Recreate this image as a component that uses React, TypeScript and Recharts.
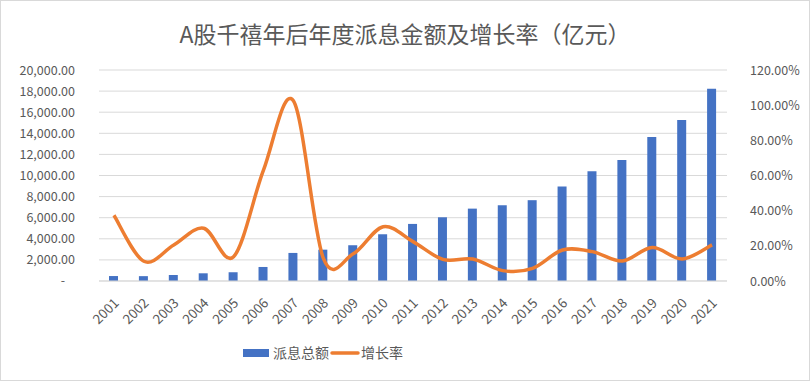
import { ComposedChart, Bar, Line, XAxis, YAxis, CartesianGrid } from 'recharts';

const years = ['2001', '2002', '2003', '2004', '2005', '2006', '2007', '2008', '2009', '2010', '2011',
  '2012', '2013', '2014', '2015', '2016', '2017', '2018', '2019', '2020', '2021'];
// 派息总额 (亿元)
const dividends = [470, 460, 570, 730, 830, 1330, 2660, 2970, 3390, 4430, 5410,
  6040, 6860, 7180, 7660, 8950, 10410, 11480, 13640, 15250, 18220];
// 增长率 (%)
const growth = [37.4, 11.2, 20.5, 30.0, 13.8, 63.0, 102.5, 13.0, 15.5, 30.9, 22.4,
  12.3, 12.5, 5.9, 7.2, 17.6, 16.7, 11.4, 19.0, 12.5, 20.5];
const leftTicks = [0, 2000, 4000, 6000, 8000, 10000, 12000, 14000, 16000, 18000, 20000];
const rightTicks = [0, 20, 40, 60, 80, 100, 120];

const data = years.map((y, i) => ({ year: y, amount: dividends[i], rate: growth[i] }));

const FONT = '"Noto Sans CJK SC", "Noto Sans", sans-serif';
const GREY = '#595959';

// Excel-like smoothed line (Catmull-Rom through every point)
const smoothCurve = (context: any) => {
  let pts: number[][] = [];
  return {
    areaStart() {},
    areaEnd() {},
    lineStart() { pts = []; },
    point(x: number, y: number) { pts.push([x, y]); },
    lineEnd() {
      if (!pts.length) return;
      context.moveTo(pts[0][0], pts[0][1]);
      for (let i = 0; i < pts.length - 1; i++) {
        const p0 = pts[i - 1] || pts[i];
        const p1 = pts[i];
        const p2 = pts[i + 1];
        const p3 = pts[i + 2] || p2;
        const t = 1 / 6;
        context.bezierCurveTo(
          p1[0] + (p2[0] - p0[0]) * t, p1[1] + (p2[1] - p0[1]) * t,
          p2[0] - (p3[0] - p1[0]) * t, p2[1] - (p3[1] - p1[1]) * t,
          p2[0], p2[1]);
      }
    },
  };
};

const LeftTick = ({ x, y, payload }: any) => {
  if (payload.value === 0) {
    return <text x={x - 28} y={y} dy={4} fill={GREY} fontSize={12.5} fontFamily={FONT} textAnchor="middle">-</text>;
  }
  const label = payload.value.toLocaleString('en-US', { minimumFractionDigits: 2, maximumFractionDigits: 2 });
  return <text x={x - 16} y={y} dy={4.5} fill={GREY} fontSize={12.5} fontFamily={FONT} textAnchor="end">{label}</text>;
};

const RightTick = ({ x, y, payload }: any) => (
  <text x={x + 15} y={y} dy={4.5} fill={GREY} fontSize={12.5} fontFamily={FONT} textAnchor="start">
    {`${payload.value.toFixed(2)}%`}
  </text>
);

const XTick = ({ x, y, payload }: any) => (
  <text x={x + 3} y={y + 12} fill={GREY} fontSize={13.5} fontFamily={FONT} textAnchor="end"
    transform={`rotate(-45, ${x + 3}, ${y + 12})`} dy={4}>{payload.value}</text>
);

export default function App() {
  return (
    <div style={{ position: 'absolute', left: 0, top: 0, width: 810, height: 381, background: '#fff',
      boxSizing: 'border-box', border: '1px solid #d9d9d9', fontFamily: FONT }}>
      <div style={{ position: 'absolute', top: 16, left: 0, width: 808, textAlign: 'center',
        fontSize: 23, color: GREY, lineHeight: '32px' }}>
        A股千禧年后年度派息金额及增长率（亿元）
      </div>
      <ComposedChart width={808} height={379} data={data}
        margin={{ top: 69, right: 0, left: 0, bottom: 40 }}>
        <CartesianGrid vertical={false} stroke="#d9d9d9" yAxisId="left" />
        <XAxis dataKey="year" tick={<XTick />} tickLine={false} axisLine={{ stroke: '#d9d9d9' }}
          interval={0} height={59} />
        <YAxis yAxisId="left" domain={[0, 20000]} ticks={leftTicks} tick={<LeftTick />} interval={0}
          tickLine={false} axisLine={false} width={98} />
        <YAxis yAxisId="right" orientation="right" domain={[0, 120]} ticks={rightTicks} interval={0}
          tick={<RightTick />} tickLine={false} axisLine={false} width={82} />
        <Bar yAxisId="left" dataKey="amount" name="派息总额" fill="#4472C4" barSize={9} isAnimationActive={false} />
        <Line yAxisId="right" dataKey="rate" name="增长率" type={smoothCurve as any} stroke="#ED7D31"
          strokeWidth={3.5} dot={false} isAnimationActive={false} />
      </ComposedChart>
      <svg width={180} height={20} style={{ position: 'absolute', left: 242, top: 342, overflow: 'visible' }}>
        <rect x={0} y={6} width={26} height={8} fill="#4472C4" />
        <text x={30} y={15} fontSize={14} fill={GREY} fontFamily={FONT}>派息总额</text>
        <line x1={89} y1={10} x2={115} y2={10} stroke="#ED7D31" strokeWidth={3.5} strokeLinecap="round" />
        <text x={118} y={15} fontSize={14} fill={GREY} fontFamily={FONT}>增长率</text>
      </svg>
    </div>
  );
}
